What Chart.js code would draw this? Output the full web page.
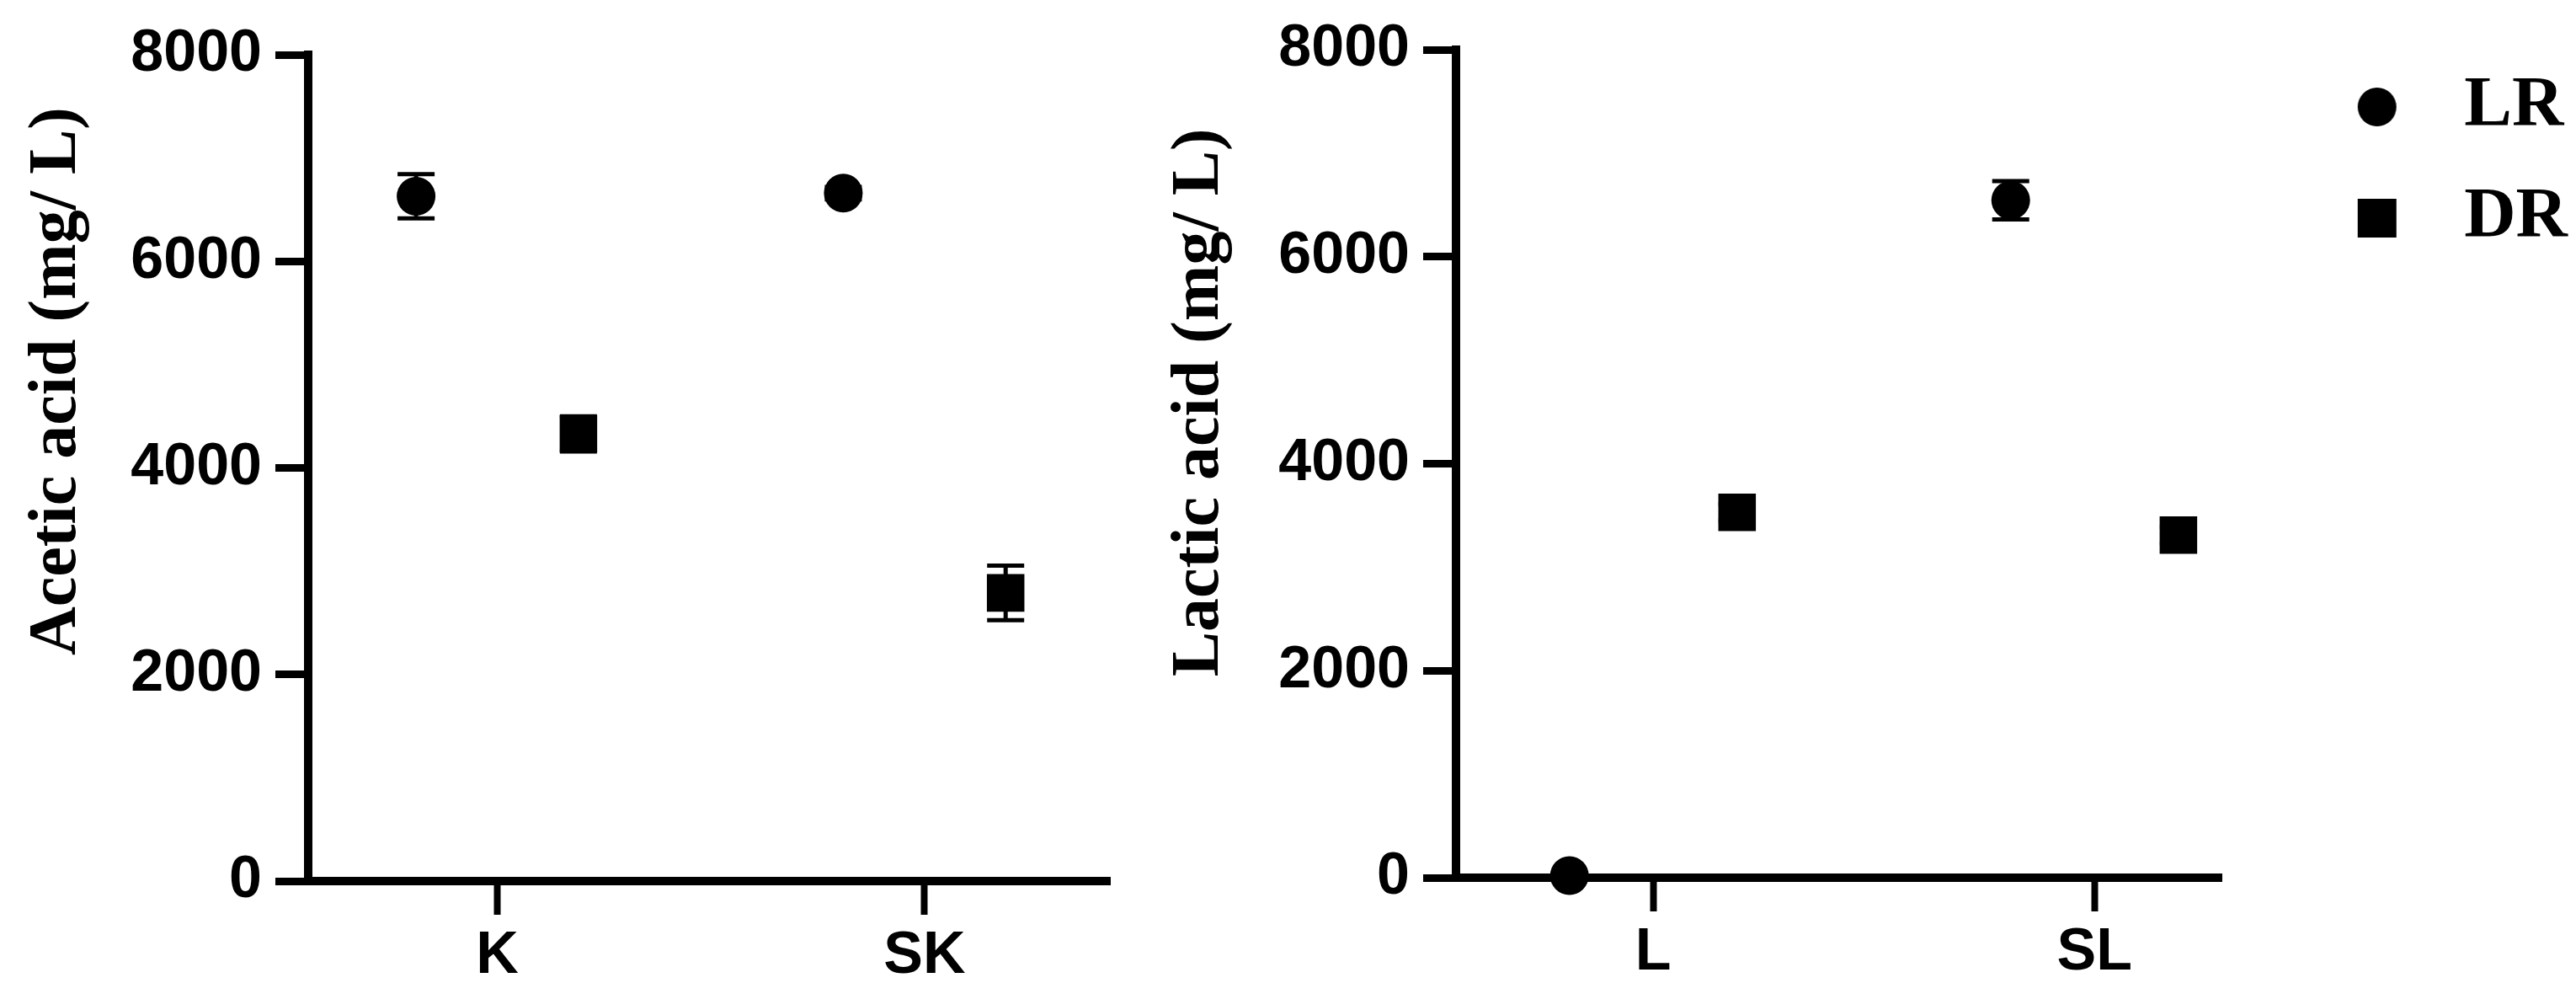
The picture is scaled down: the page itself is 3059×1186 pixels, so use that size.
<!DOCTYPE html>
<html>
<head>
<meta charset="utf-8">
<title>Acetic and lactic acid</title>
<script src="https://cdn.jsdelivr.net/npm/chart.js"></script>
<style>
  body { margin: 0; background: #fff; }
  #wrap { position: relative; width: 3059px; height: 1186px; }
  canvas { position: absolute; top: 0; }
  #aceticChart { left: 0; }
  #lacticChart { left: 1350px; }
</style>
</head>
<body>
<div id="wrap">
  <canvas id="aceticChart" width="1350" height="1186"></canvas>
  <canvas id="lacticChart" width="1709" height="1186"></canvas>
</div>
<script>
// values (mg/L), mean and error bar half-length
const seriesNames = ['LR', 'DR'];
const yTicks = [0, 2000, 4000, 6000, 8000];

const aceticCategories = ['K', 'SK'];
const aceticLR = [6630, 6660];
const aceticLRErr = [215, 60];
const aceticDR = [4330, 2790];
const aceticDRErr = [170, 265];

const lacticCategories = ['L', 'SL'];
const lacticLR = [20, 6545];
const lacticLRErr = [0, 185];
const lacticDR = [3530, 3310];
const lacticDRErr = [80, 80];

const DODGE = 0.19;
const tickFont = { family: 'Liberation Sans', size: 70, weight: 'bold' };

function points(values, shift) {
    return values.map((v, i) => ({ x: i + 1 + shift, y: v }));
}

// error bars drawn on top of the markers
const errorBars = {
    id: 'errorBars',
    afterDatasetsDraw(chart) {
        const ctx = chart.ctx;
        const y = chart.scales.y;
        ctx.save();
        ctx.strokeStyle = '#000';
        ctx.lineWidth = 5;
        chart.data.datasets.forEach((ds, di) => {
            chart.getDatasetMeta(di).data.forEach((pt, i) => {
                const e = ds.errors[i];
                if (!e) return;
                const top = y.getPixelForValue(ds.data[i].y + e);
                const bot = y.getPixelForValue(ds.data[i].y - e);
                ctx.beginPath();
                ctx.moveTo(pt.x, top); ctx.lineTo(pt.x, bot);
                ctx.moveTo(pt.x - 22, top); ctx.lineTo(pt.x + 22, top);
                ctx.moveTo(pt.x - 22, bot); ctx.lineTo(pt.x + 22, bot);
                ctx.stroke();
            });
        });
        ctx.restore();
    }
};

// y title sits above the middle of the axis in the original
const yTitle = {
    id: 'yTitle',
    afterDraw(chart, args, opts) {
        const s = chart.scales.y;
        const ctx = chart.ctx;
        ctx.save();
        ctx.translate(opts.x, s.top + (s.bottom - s.top) * opts.at);
        ctx.rotate(-Math.PI / 2);
        ctx.font = 'bold 80px "Liberation Serif"';
        ctx.fillStyle = '#000';
        ctx.textAlign = 'center';
        ctx.textBaseline = 'alphabetic';
        ctx.fillText(opts.text, 0, 0);
        ctx.restore();
    }
};

function legendIcon(shape) {
    const c = document.createElement('canvas');
    c.width = 124;
    c.height = 48;
    const g = c.getContext('2d');
    g.fillStyle = '#000';
    if (shape === 'circle') {
        g.beginPath();
        g.arc(100, 24, 23, 0, Math.PI * 2);
        g.fill();
    } else {
        g.fillRect(77, 1, 46, 46);
    }
    return c;
}
const legendIcons = [legendIcon('circle'), legendIcon('rect')];

function makeDatasets(lr, lrErr, dr, drErr) {
    const common = { backgroundColor: '#000', borderColor: '#000', borderWidth: 0, showLine: false, clip: false };
    return [
        Object.assign({ label: seriesNames[0], data: points(lr, -DODGE), errors: lrErr, pointStyle: 'circle', pointRadius: 23 }, common),
        Object.assign({ label: seriesNames[1], data: points(dr, DODGE), errors: drErr, pointStyle: 'rect', pointRadius: 31.5 }, common)
    ];
}

function makeScales(labels, xMin, xMax, yWidth, xHeight, padTop) {
    return {
        x: {
            type: 'linear',
            min: xMin,
            max: xMax,
            afterBuildTicks: s => { s.ticks = labels.map((_, i) => ({ value: i + 1 })); },
            ticks: { callback: v => labels[v - 1] ?? '', font: tickFont, color: '#000', padding: 8, maxRotation: 0, autoSkip: false },
            grid: { drawOnChartArea: false, tickLength: 40, tickWidth: 8, tickColor: '#000' },
            border: { color: '#000', width: 10 },
            afterFit: s => { s.height = xHeight; }
        },
        y: {
            min: 0,
            max: 8000,
            afterBuildTicks: s => { s.ticks = yTicks.map(v => ({ value: v })); },
            ticks: { callback: v => String(v), font: tickFont, color: '#000', padding: 16 },
            grid: { drawOnChartArea: false, tickLength: 39, tickWidth: 9, tickColor: '#000' },
            border: { color: '#000', width: 10 },
            afterFit: s => {
                s.width = yWidth;
                if (padTop) s.paddingTop = padTop;
            }
        }
    };
}

new Chart(document.getElementById('aceticChart'), {
    type: 'scatter',
    data: { datasets: makeDatasets(aceticLR, aceticLRErr, aceticDR, aceticDRErr) },
    options: {
        responsive: false,
        animation: false,
        devicePixelRatio: 1,
        events: [],
        layout: { padding: { top: 65, left: 0, right: 4, bottom: 0 } },
        scales: makeScales(aceticCategories, 0.5575, 2.435, 366, 140, 0),
        plugins: {
            legend: { display: false },
            tooltip: { enabled: false },
            yTitle: { text: 'Acetic acid (mg/ L)', x: 89, at: 0.395 }
        }
    },
    plugins: [errorBars, yTitle]
});

new Chart(document.getElementById('lacticChart'), {
    type: 'scatter',
    data: { datasets: makeDatasets(lacticLR, lacticLRErr, lacticDR, lacticDRErr) },
    options: {
        responsive: false,
        animation: false,
        devicePixelRatio: 1,
        events: [],
        layout: { padding: { top: 37.5, left: 0, right: 0, bottom: 0 } },
        scales: makeScales(lacticCategories, 0.553, 2.289, 379, 144, 59),
        plugins: {
            legend: {
                position: 'right',
                align: 'start',
                maxWidth: 429,
                labels: {
                    usePointStyle: true,
                    pointStyleWidth: 198,
                    padding: 47,
                    color: '#000',
                    font: { family: 'Liberation Serif', size: 85, weight: 'bold' },
                    generateLabels(chart) {
                        const items = Chart.defaults.plugins.legend.labels.generateLabels(chart);
                        items.forEach((it, i) => { it.pointStyle = legendIcons[i]; });
                        return items;
                    }
                }
            },
            tooltip: { enabled: false },
            yTitle: { text: 'Lactic acid (mg/ L)', x: 96, at: 0.426 }
        }
    },
    plugins: [errorBars, yTitle]
});
</script>
</body>
</html>
